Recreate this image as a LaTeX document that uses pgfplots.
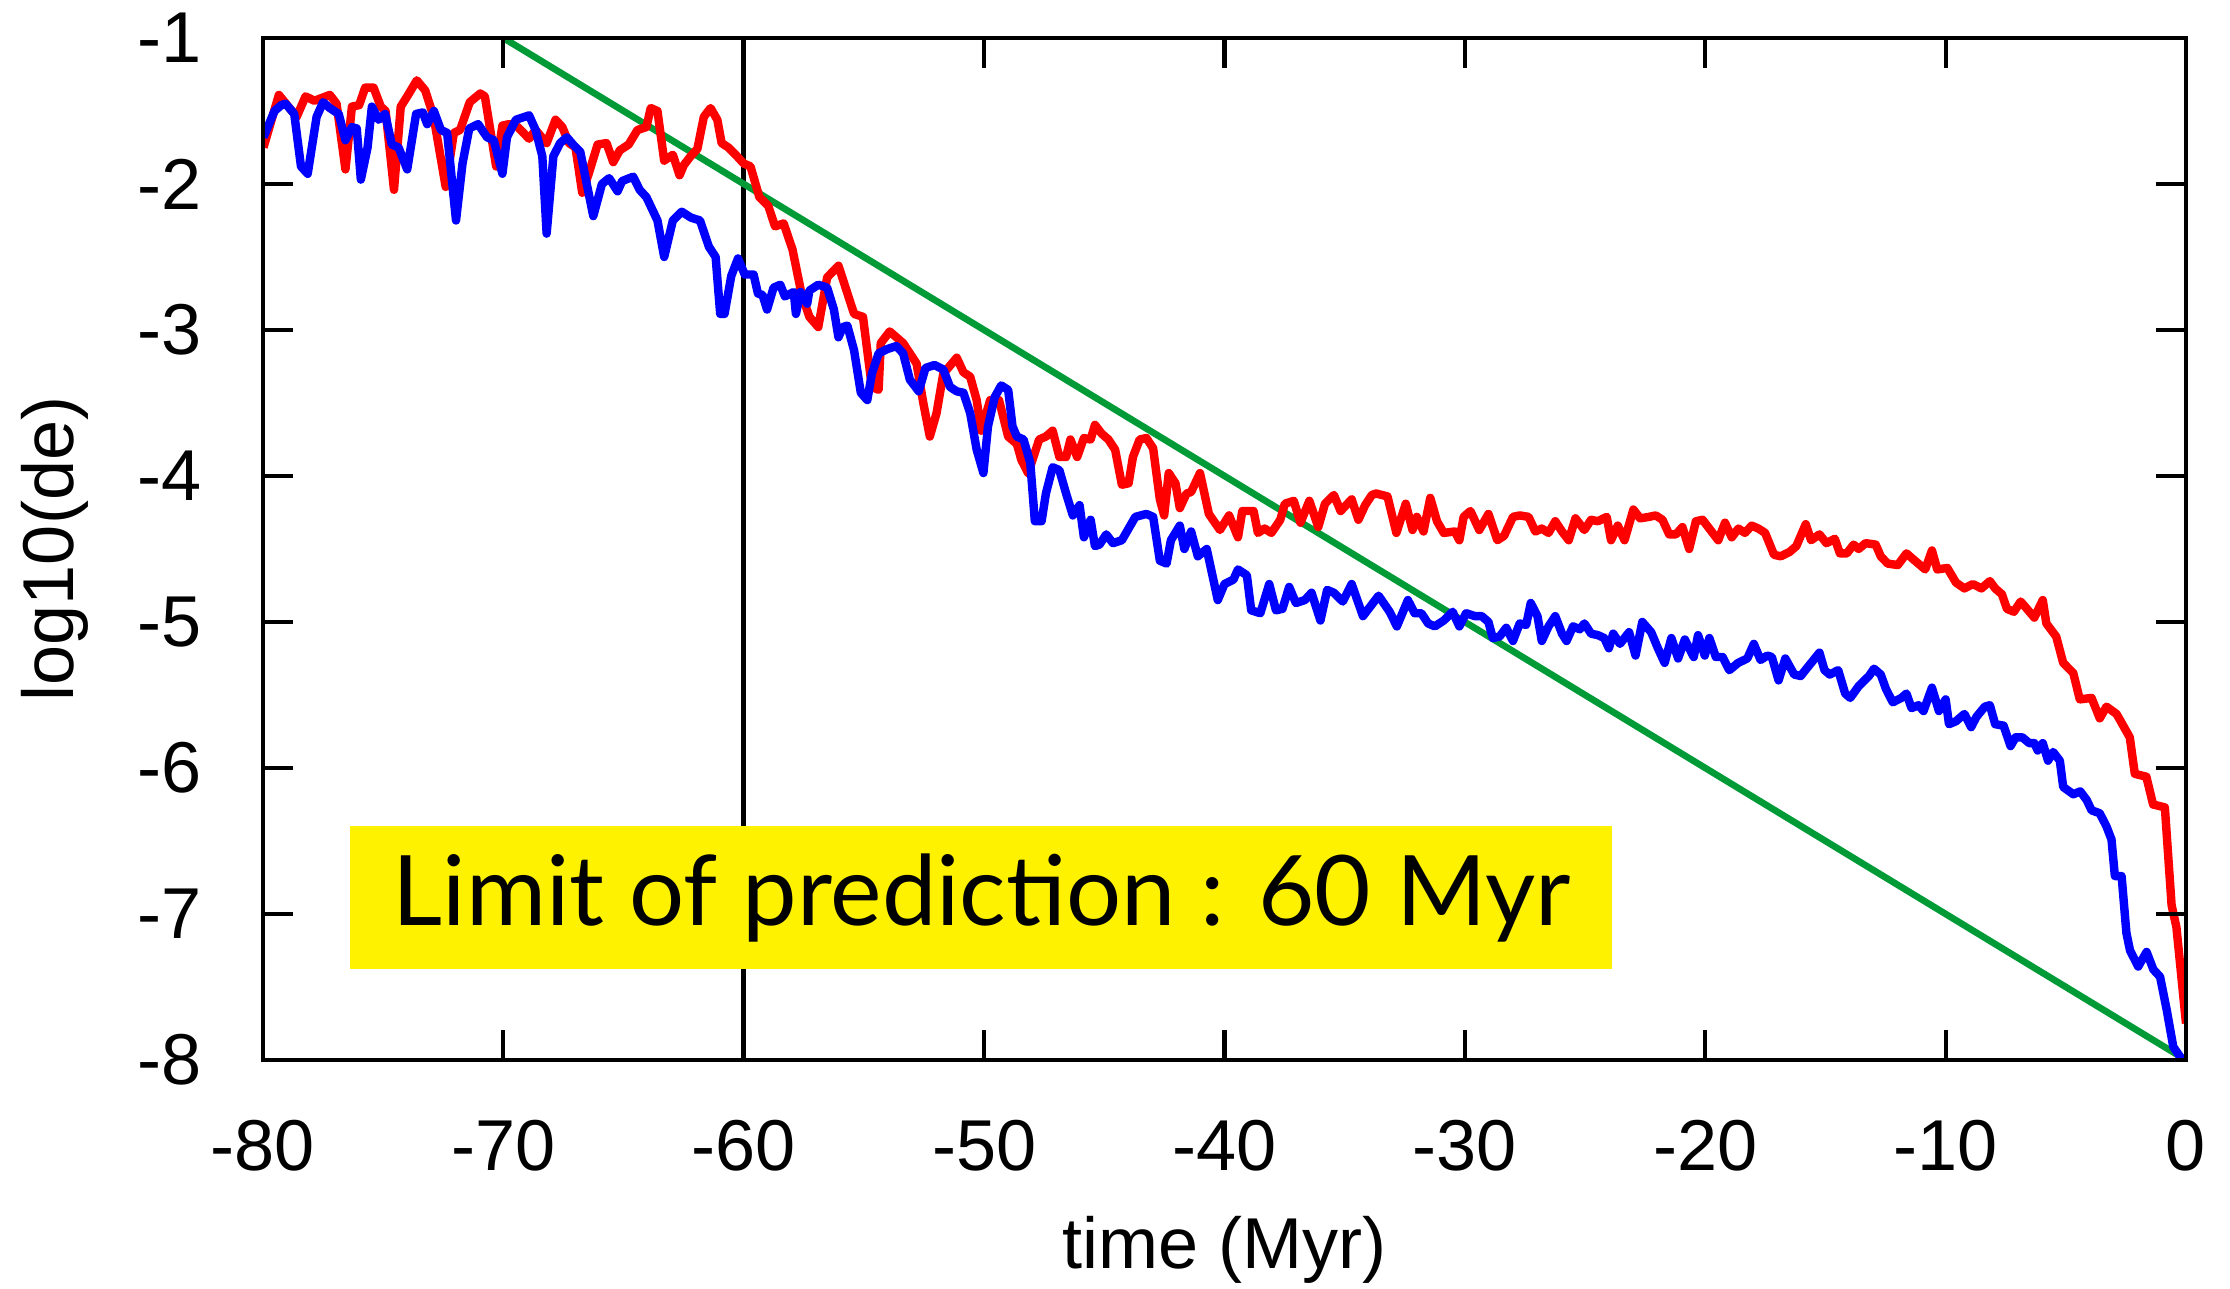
\documentclass[border=0pt]{standalone}
\usepackage{fontspec}
\setmainfont{Liberation Sans}
\newfontfamily\boxfont{Lato}
\usepackage{pgfplots}
\pgfplotsset{compat=1.18}
\definecolor{lgreen}{RGB}{0,155,55}
\begin{document}
\begin{tikzpicture}
\begin{axis}[
  scale only axis, width=192.3mm, height=102.2mm,
  xmin=-80, xmax=0, ymin=-8, ymax=-1,
  axis line style={line width=1.4pt},
  axis on top,
  xtick={-80,-70,-60,-50,-40,-30,-20,-10,0},
  xticklabels={-80,-70,-60,-50,-40,-30,-20,-10,0},
  ytick={-8,-7,-6,-5,-4,-3,-2,-1},
  yticklabels={-8,-7,-6,-5,-4,-3,-2,-1},
  tick align=inside, major tick length=3mm,
  tick style={line width=1.2pt, black},
  every tick label/.append style={font=\fontsize{20.5}{24}\selectfont, inner sep=0pt},
  xticklabel style={anchor=north, yshift=-5.9mm},
  yticklabel style={anchor=east, xshift=-6.1mm},
  xlabel={time (Myr)}, ylabel={log10(de)},
  label style={font=\fontsize{20.5}{24}\selectfont, inner sep=0pt},
  xlabel style={at={(rel axis cs:0.5,0)}, anchor=north, yshift=-15.6mm},
  ylabel style={at={(rel axis cs:0,0.5)}, anchor=north, yshift=24.2mm},
]
\addplot[black, line width=1.4pt] coordinates {(-60,-8) (-60,-1)};
\addplot[lgreen, line width=1.9pt] coordinates {(-70,-1) (0,-8)};
\addplot[red, line width=2.4pt, line join=round] table {
-79.98 -1.75
-79.34 -1.39
-78.6 -1.54
-78.23 -1.40
-77.86 -1.43
-77.22 -1.39
-76.94 -1.45
-76.57 -1.90
-76.3 -1.47
-76.0 -1.46
-75.75 -1.34
-75.4 -1.34
-75.1 -1.47
-74.9 -1.50
-74.55 -2.04
-74.27 -1.47
-74.0 -1.40
-73.6 -1.29
-73.25 -1.36
-72.9 -1.54
-72.4 -2.02
-72.06 -1.65
-71.8 -1.63
-71.4 -1.44
-70.96 -1.38
-70.77 -1.40
-70.3 -1.88
-70.04 -1.60
-69.76 -1.59
-69.4 -1.61
-68.93 -1.69
-68.66 -1.63
-68.2 -1.72
-67.83 -1.56
-67.55 -1.61
-67.27 -1.72
-67.0 -1.75
-66.72 -2.06
-66.45 -1.93
-66.08 -1.73
-65.71 -1.72
-65.43 -1.85
-65.16 -1.77
-64.79 -1.73
-64.42 -1.63
-64.05 -1.61
-63.87 -1.48
-63.59 -1.50
-63.31 -1.84
-62.95 -1.80
-62.67 -1.94
-62.49 -1.87
-62.21 -1.81
-61.93 -1.76
-61.66 -1.54
-61.38 -1.48
-61.1 -1.56
-60.92 -1.72
-60.64 -1.75
-60.28 -1.81
-60.0 -1.86
-59.72 -1.88
-59.35 -2.09
-58.98 -2.15
-58.7 -2.29
-58.34 -2.27
-57.97 -2.45
-57.6 -2.75
-57.27 -2.91
-56.9 -2.98
-56.53 -2.64
-56.06 -2.56
-55.41 -2.89
-55.04 -2.91
-54.67 -3.39
-54.39 -3.41
-54.3 -3.09
-53.93 -3.01
-53.37 -3.09
-52.81 -3.23
-52.53 -3.50
-52.26 -3.73
-51.98 -3.57
-51.70 -3.30
-51.14 -3.19
-50.86 -3.29
-50.58 -3.32
-50.31 -3.48
-50.12 -3.69
-49.75 -3.48
-49.38 -3.48
-49.0 -3.73
-48.64 -3.78
-48.45 -3.89
-48.17 -3.98
-47.71 -3.75
-47.43 -3.73
-47.15 -3.69
-46.87 -3.87
-46.59 -3.87
-46.41 -3.75
-46.13 -3.87
-45.85 -3.74
-45.57 -3.75
-45.39 -3.65
-45.11 -3.71
-44.83 -3.75
-44.55 -3.82
-44.27 -4.06
-43.99 -4.05
-43.81 -3.87
-43.53 -3.75
-43.25 -3.74
-42.97 -3.81
-42.69 -4.16
-42.51 -4.27
-42.32 -3.98
-42.04 -4.05
-41.86 -4.22
-41.58 -4.12
-41.39 -4.11
-41.02 -3.98
-40.65 -4.26
-40.19 -4.37
-39.81 -4.27
-39.44 -4.42
-39.26 -4.24
-38.79 -4.24
-38.61 -4.39
-38.33 -4.36
-38.05 -4.39
-37.68 -4.30
-37.49 -4.19
-37.12 -4.17
-36.84 -4.32
-36.47 -4.17
-36.10 -4.35
-35.82 -4.19
-35.45 -4.13
-35.17 -4.24
-34.71 -4.16
-34.43 -4.30
-34.15 -4.20
-33.87 -4.13
-33.69 -4.12
-33.22 -4.14
-32.85 -4.39
-32.46 -4.19
-32.18 -4.37
-32.0 -4.28
-31.72 -4.38
-31.44 -4.15
-31.16 -4.31
-30.88 -4.39
-30.42 -4.38
-30.23 -4.44
-30.05 -4.28
-29.77 -4.24
-29.4 -4.37
-29.02 -4.26
-28.65 -4.44
-28.37 -4.41
-28.0 -4.28
-27.72 -4.27
-27.35 -4.28
-27.07 -4.38
-26.8 -4.36
-26.52 -4.39
-26.24 -4.31
-25.96 -4.38
-25.68 -4.44
-25.4 -4.29
-25.03 -4.37
-24.75 -4.30
-24.47 -4.31
-24.1 -4.28
-23.92 -4.44
-23.64 -4.34
-23.36 -4.44
-22.99 -4.23
-22.71 -4.29
-22.34 -4.28
-22.06 -4.27
-21.78 -4.30
-21.5 -4.40
-21.22 -4.40
-20.95 -4.35
-20.67 -4.50
-20.39 -4.31
-20.11 -4.30
-19.74 -4.38
-19.46 -4.44
-19.18 -4.32
-18.9 -4.42
-18.62 -4.36
-18.35 -4.39
-18.07 -4.34
-17.79 -4.36
-17.51 -4.39
-17.14 -4.54
-16.86 -4.55
-16.49 -4.52
-16.21 -4.48
-15.82 -4.33
-15.6 -4.44
-15.25 -4.40
-14.96 -4.46
-14.61 -4.43
-14.4 -4.53
-14.11 -4.53
-13.83 -4.47
-13.62 -4.50
-13.33 -4.46
-12.91 -4.47
-12.7 -4.55
-12.41 -4.60
-11.99 -4.61
-11.63 -4.53
-11.21 -4.59
-10.85 -4.64
-10.57 -4.51
-10.35 -4.64
-9.93 -4.63
-9.57 -4.73
-9.22 -4.77
-8.87 -4.74
-8.51 -4.77
-8.16 -4.72
-7.94 -4.77
-7.66 -4.81
-7.45 -4.91
-7.16 -4.93
-6.88 -4.86
-6.67 -4.90
-6.31 -4.97
-5.96 -4.85
-5.81 -5.01
-5.40 -5.10
-5.11 -5.28
-4.69 -5.35
-4.42 -5.53
-3.93 -5.52
-3.59 -5.66
-3.31 -5.58
-2.89 -5.63
-2.34 -5.79
-2.13 -6.04
-1.65 -6.06
-1.37 -6.25
-0.88 -6.27
-0.60 -6.94
-0.40 -7.09
0.0 -7.75
};
\addplot[blue, line width=2.4pt, line join=round] table {
-79.98 -1.68
-79.52 -1.50
-79.24 -1.46
-79.06 -1.45
-78.7 -1.52
-78.42 -1.88
-78.14 -1.93
-77.77 -1.54
-77.5 -1.44
-77.22 -1.48
-76.85 -1.52
-76.57 -1.70
-76.3 -1.61
-76.1 -1.62
-75.93 -1.97
-75.65 -1.75
-75.47 -1.47
-75.19 -1.56
-74.92 -1.52
-74.64 -1.73
-74.36 -1.75
-74.0 -1.90
-73.63 -1.52
-73.35 -1.51
-73.17 -1.59
-72.89 -1.50
-72.6 -1.63
-72.34 -1.65
-71.97 -2.25
-71.7 -1.86
-71.42 -1.62
-71.05 -1.59
-70.68 -1.68
-70.4 -1.70
-70.04 -1.93
-69.85 -1.68
-69.48 -1.56
-68.93 -1.53
-68.66 -1.63
-68.38 -1.81
-68.2 -2.34
-67.92 -1.81
-67.64 -1.72
-67.36 -1.68
-67.1 -1.73
-66.8 -1.78
-66.26 -2.22
-65.9 -2.00
-65.6 -1.96
-65.25 -2.05
-65.06 -1.98
-64.6 -1.95
-64.33 -2.04
-64.05 -2.09
-63.59 -2.25
-63.31 -2.50
-62.95 -2.25
-62.58 -2.19
-62.2 -2.23
-61.82 -2.25
-61.45 -2.43
-61.17 -2.50
-60.98 -2.89
-60.8 -2.89
-60.52 -2.63
-60.24 -2.51
-59.96 -2.62
-59.59 -2.62
-59.41 -2.75
-59.22 -2.76
-59.03 -2.86
-58.76 -2.71
-58.48 -2.69
-58.29 -2.77
-57.92 -2.74
-57.83 -2.89
-57.64 -2.74
-57.36 -2.82
-57.27 -2.73
-56.9 -2.69
-56.53 -2.71
-56.25 -2.86
-56.06 -3.05
-55.88 -2.98
-55.69 -2.97
-55.41 -3.14
-55.13 -3.43
-54.86 -3.48
-54.67 -3.30
-54.39 -3.16
-54.02 -3.13
-53.65 -3.11
-53.37 -3.16
-53.09 -3.34
-52.72 -3.42
-52.44 -3.26
-52.07 -3.24
-51.7 -3.27
-51.42 -3.39
-51.14 -3.42
-50.86 -3.43
-50.58 -3.57
-50.31 -3.82
-50.03 -3.98
-49.84 -3.66
-49.56 -3.46
-49.29 -3.38
-49.0 -3.41
-48.82 -3.66
-48.64 -3.73
-48.36 -3.75
-48.08 -3.91
-47.89 -4.31
-47.61 -4.31
-47.43 -4.12
-47.15 -3.94
-46.87 -3.96
-46.59 -4.12
-46.31 -4.27
-46.03 -4.20
-45.85 -4.42
-45.57 -4.30
-45.39 -4.48
-45.2 -4.47
-44.92 -4.40
-44.64 -4.46
-44.27 -4.44
-43.99 -4.36
-43.71 -4.28
-43.25 -4.26
-42.97 -4.28
-42.69 -4.58
-42.41 -4.60
-42.23 -4.44
-41.86 -4.34
-41.67 -4.50
-41.39 -4.38
-41.11 -4.55
-40.74 -4.50
-40.28 -4.85
-40.0 -4.74
-39.63 -4.71
-39.44 -4.64
-39.07 -4.68
-38.89 -4.92
-38.51 -4.94
-38.14 -4.74
-37.86 -4.92
-37.59 -4.91
-37.31 -4.76
-37.03 -4.87
-36.66 -4.85
-36.38 -4.80
-36.01 -4.99
-35.73 -4.78
-35.45 -4.80
-35.08 -4.86
-34.71 -4.74
-34.24 -4.96
-33.59 -4.82
-33.13 -4.93
-32.83 -5.03
-32.37 -4.85
-32.09 -4.94
-31.81 -4.94
-31.53 -5.01
-31.25 -5.03
-30.88 -4.99
-30.51 -4.93
-30.23 -5.03
-29.95 -4.94
-29.58 -4.96
-29.3 -4.96
-29.02 -5.00
-28.84 -5.11
-28.56 -5.10
-28.28 -5.04
-28.0 -5.13
-27.72 -5.01
-27.45 -5.02
-27.26 -4.87
-26.98 -4.96
-26.8 -5.13
-26.52 -5.03
-26.24 -4.96
-25.96 -5.08
-25.77 -5.13
-25.5 -5.03
-25.22 -5.05
-25.03 -5.01
-24.75 -5.08
-24.47 -5.09
-24.2 -5.11
-24.01 -5.18
-23.83 -5.08
-23.55 -5.15
-23.17 -5.07
-22.9 -5.23
-22.62 -5.00
-22.25 -5.07
-21.97 -5.18
-21.69 -5.28
-21.41 -5.11
-21.13 -5.25
-20.85 -5.12
-20.48 -5.24
-20.3 -5.09
-20.02 -5.23
-19.83 -5.11
-19.56 -5.24
-19.28 -5.24
-19.0 -5.33
-18.63 -5.28
-18.25 -5.25
-17.98 -5.15
-17.7 -5.26
-17.42 -5.23
-17.23 -5.24
-16.95 -5.40
-16.67 -5.25
-16.3 -5.36
-16.03 -5.37
-15.74 -5.31
-15.25 -5.21
-15.04 -5.33
-14.82 -5.36
-14.47 -5.33
-14.18 -5.49
-13.97 -5.52
-13.62 -5.44
-13.19 -5.37
-12.98 -5.32
-12.7 -5.36
-12.48 -5.46
-12.2 -5.55
-11.84 -5.52
-11.63 -5.49
-11.42 -5.59
-11.13 -5.57
-10.92 -5.61
-10.57 -5.45
-10.28 -5.61
-10.0 -5.53
-9.86 -5.70
-9.57 -5.68
-9.22 -5.63
-8.94 -5.72
-8.72 -5.65
-8.37 -5.58
-8.16 -5.57
-7.94 -5.70
-7.59 -5.71
-7.30 -5.85
-7.09 -5.79
-6.81 -5.79
-6.52 -5.83
-6.31 -5.83
-6.17 -5.88
-5.96 -5.83
-5.74 -5.95
-5.53 -5.89
-5.25 -5.95
-5.11 -6.13
-4.69 -6.18
-4.40 -6.16
-4.13 -6.22
-3.93 -6.29
-3.59 -6.31
-3.31 -6.40
-3.10 -6.49
-2.96 -6.74
-2.68 -6.74
-2.48 -7.13
-2.33 -7.25
-1.99 -7.36
-1.64 -7.26
-1.36 -7.38
-1.08 -7.43
-0.80 -7.66
-0.53 -7.91
-0.15 -8.0
};
\fill[yellow] (axis cs:-76.4,-6.40) rectangle (axis cs:-23.9,-7.38);
\node[inner sep=0pt] at (axis cs:-50.1,-6.89) {\resizebox{117.8mm}{!}{\boxfont\fontsize{24}{28}\selectfont Limit of prediction : 60 Myr}};
\end{axis}
\path (current axis.south west) ++(-26.3mm,-22.9mm) coordinate (bbA);
\path (current axis.north east) ++(4.4mm,3.8mm) coordinate (bbB);
\path (bbA) rectangle (bbB);
\end{tikzpicture}
\end{document}
